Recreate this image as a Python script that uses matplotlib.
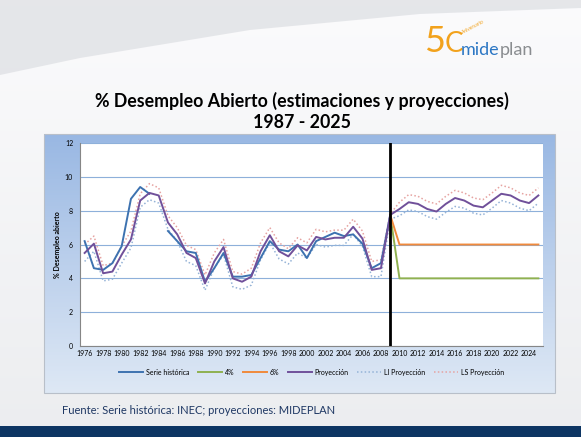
import numpy as np
import matplotlib.pyplot as plt
from matplotlib.patches import Polygon, Rectangle

plt.rcParams['font.family'] = ['Lato', 'DejaVu Sans']

# Data
years = list(range(1976, 2026))
nan = np.nan
historica = [6.2, 4.6, 4.5, 4.9, 5.9, 8.7, 9.4, 9.0, nan, 6.8,
             6.2, 5.6, 5.5, 3.8, 4.6, 5.5, 4.1, 4.1, 4.2, 5.2,
             6.2, 5.7, 5.6, 6.0, 5.2, 6.2, 6.45, 6.7, 6.5, 6.6,
             6.05, 4.6, 4.9, 7.75] + [nan] * 16
tasa4 = [nan] * 33 + [7.75] + [4.0] * 16
tasa6 = [nan] * 33 + [7.75] + [6.0] * 16
proyeccion = [5.5, 6.05, 4.3, 4.4, 5.4, 6.3, 8.6, 9.05, 8.9, 7.3,
              6.6, 5.5, 5.2, 3.7, 5.0, 5.85, 4.0, 3.8, 4.1, 5.6,
              6.55, 5.6, 5.3, 5.95, 5.65, 6.45, 6.3, 6.4, 6.4, 7.05,
              6.35, 4.5, 4.6, 7.75, 8.1, 8.5, 8.4, 8.1, 7.95, 8.4,
              8.75, 8.6, 8.3, 8.2, 8.6, 9.0, 8.9, 8.6, 8.45, 8.9]
li_proy = [5.0, 5.6, 3.85, 3.95, 4.9, 5.8, 8.2, 8.65, 8.45, 6.9,
           6.2, 5.0, 4.75, 3.3, 4.6, 5.4, 3.5, 3.35, 3.6, 5.1,
           6.1, 5.15, 4.85, 5.5, 5.2, 6.0, 5.85, 5.95, 5.95, 6.6,
           5.9, 4.1, 4.1, 7.5, 7.7, 8.05, 7.95, 7.65, 7.5, 7.9,
           8.25, 8.15, 7.85, 7.75, 8.15, 8.6, 8.45, 8.15, 8.0, 8.45]
ls_proy = [6.0, 6.5, 4.75, 4.9, 5.9, 6.8, 9.0, 9.6, 9.35, 7.7,
           7.0, 5.95, 5.7, 4.2, 5.5, 6.3, 4.4, 4.25, 4.6, 6.1,
           7.0, 6.1, 5.75, 6.4, 6.1, 6.9, 6.75, 6.85, 6.85, 7.5,
           6.8, 5.0, 5.1, 7.8, 8.5, 8.95, 8.85, 8.55, 8.4, 8.85,
           9.2, 9.05, 8.75, 8.65, 9.05, 9.5, 9.35, 9.05, 8.9, 9.35]
corte = 2009

fig = plt.figure(figsize=(5.81, 4.37), dpi=100)

# slide background
bg = fig.add_axes([0, 0, 1, 1], zorder=-10)
bg.set_xlim(0, 581)
bg.set_ylim(437, 0)
bg.axis('off')
grad = np.linspace(0, 1, 200)[:, None]
bg.imshow(np.dstack([0.985 - 0.06 * grad, 0.985 - 0.055 * grad, 0.99 - 0.05 * grad]),
          extent=[0, 581, 437, 0], aspect='auto')
bg.add_patch(Polygon([[0, 0], [581, 0], [581, 8], [420, 14], [250, 30], [80, 58], [0, 75]],
                     closed=True, color='#dcdee2', alpha=0.7, lw=0))
bg.add_patch(Rectangle((0, 426), 581, 11, color='#0d3563', lw=0))
# chart frame with gradient
fr = np.linspace(0, 1, 200)[:, None]
frame = np.dstack([0.60 + 0.27 * fr, 0.72 + 0.19 * fr, 0.89 + 0.07 * fr])
bg.imshow(frame, extent=[44, 555, 393, 134], aspect='auto')
bg.add_patch(Rectangle((44, 134), 511, 259, fill=False, ec='#b8bfc9', lw=0.8))
bg.set_xlim(0, 581)
bg.set_ylim(437, 0)

# logo
bg.text(424, 52, '5', color='#f2a21c', fontsize=26, ha='left', va='baseline')
bg.text(445, 52, 'C', color='#f2a21c', fontsize=20, ha='left', va='baseline')
bg.text(461, 55, 'mide', color='#2c77c4', fontsize=13, ha='left', va='baseline')
bg.text(500, 55, 'plan', color='#8a8d90', fontsize=13, ha='left', va='baseline')
bg.text(461, 34, 'Aniversario', color='#f2a21c', fontsize=3.5, rotation=28, ha='left')

# titles
bg.text(302, 101, '% Desempleo Abierto (estimaciones y proyecciones)', fontsize=12.8,
        fontweight='bold', ha='center', va='center', color='black')
bg.text(302, 122, '1987 - 2025', fontsize=12.8, fontweight='bold', ha='center',
        va='center', color='black')
bg.text(62, 410, 'Fuente: Serie histórica: INEC; proyecciones: MIDEPLAN', fontsize=8,
        ha='left', va='center', color='#1f3864')

ax = fig.add_axes([0.1377, 0.2082, 0.7969, 0.4645])
x = np.arange(len(years))
ax.plot(x, li_proy, color='#95b3d7', lw=1.1, ls=(0, (1, 1.5)), label='LI Proyección', zorder=2)
ax.plot(x, ls_proy, color='#e6a3a1', lw=1.1, ls=(0, (1, 1.5)), label='LS Proyección', zorder=2)
ax.plot(x, historica, color='#3d72b0', lw=1.4, label='Serie histórica', zorder=3)
ax.plot(x, tasa4, color='#8fb150', lw=1.4, label='4%', zorder=3)
ax.plot(x, tasa6, color='#f08a3c', lw=1.4, label='6%', zorder=3)
ax.plot(x, proyeccion, color='#70509a', lw=1.4, label='Proyección', zorder=4)
ax.axvline(years.index(corte), color='black', lw=2, zorder=5)

ax.set_xlim(-0.5, len(years) - 0.5)
ax.set_ylim(0, 12)
ax.set_yticks(range(0, 13, 2))
ax.set_xticks(x[::2])
ax.set_xticklabels([str(y) for y in years[::2]], fontsize=5)
ax.tick_params(axis='y', labelsize=5, length=0, pad=5)
ax.tick_params(axis='x', length=0, pad=3)
ax.yaxis.grid(True, color='#8eb0da', lw=0.8)
ax.set_axisbelow(True)
for s in ['top', 'right']:
    ax.spines[s].set_visible(False)
ax.spines['left'].set_color('#868686')
ax.spines['bottom'].set_color('#868686')
ax.set_ylabel('% Desempleo abierto', fontsize=5, fontweight='bold', labelpad=3)

handles, labels = ax.get_legend_handles_labels()
order = ['Serie histórica', '4%', '6%', 'Proyección', 'LI Proyección', 'LS Proyección']
hmap = dict(zip(labels, handles))
ax.legend([hmap[o] for o in order], order, loc='upper center', bbox_to_anchor=(0.5, -0.08),
          ncol=6, frameon=False, fontsize=5, handlelength=3.5, handletextpad=0.4,
          columnspacing=1.2)

fig.savefig('out.png', dpi=100)
